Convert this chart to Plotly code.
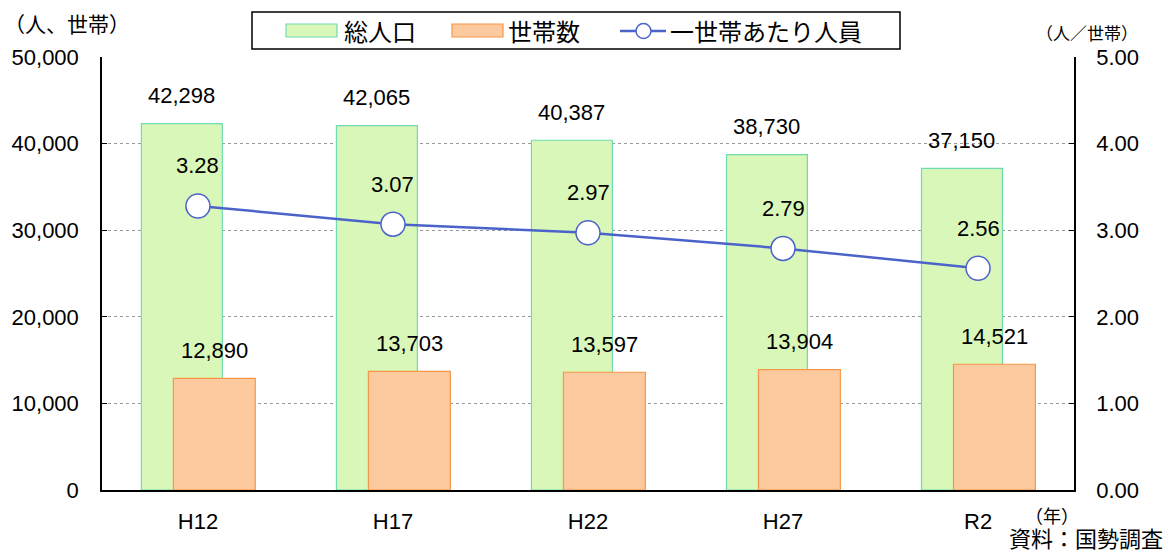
import plotly.graph_objects as go

categories = ["H12", "H17", "H22", "H27", "R2"]
population = [42298, 42065, 40387, 38730, 37150]
households = [12890, 13703, 13597, 13904, 14521]
per_household = [3.28, 3.07, 2.97, 2.79, 2.56]
series_names = ["総人口", "世帯数", "一世帯あたり人員"]

FONT = "Liberation Sans, Noto Sans CJK JP, sans-serif"
JFONT = "Noto Sans CJK JP, sans-serif"
GREEN_FILL, GREEN_LINE = "#d9f7b9", "#6fdcb0"
ORANGE_FILL, ORANGE_LINE = "#fdcaa0", "#f79646"
BLUE = "#4b63c9"

x = list(range(len(categories)))
GREEN_OFF, GREEN_W = -0.29, 0.415
ORANGE_OFF, ORANGE_W = -0.126, 0.42

W, H = 1168, 553
L, R, T, B = 102, 94, 57, 63
pw, ph = W - L - R, H - T - B
def px(xp): return (xp - L) / pw
def py(yp): return 1 - (yp - T) / ph

fig = go.Figure()
fig.add_trace(go.Bar(
    x=x, y=population, name=series_names[0], offset=GREEN_OFF, width=GREEN_W,
    marker=dict(color=GREEN_FILL, line=dict(color=GREEN_LINE, width=1.2)),
))
fig.add_trace(go.Bar(
    x=x, y=households, name=series_names[1], offset=ORANGE_OFF, width=ORANGE_W,
    marker=dict(color=ORANGE_FILL, line=dict(color=ORANGE_LINE, width=1.2)),
))
fig.add_trace(go.Scatter(
    x=x, y=per_household, name=series_names[2], yaxis="y2",
    mode="lines+markers",
    line=dict(color=BLUE, width=2.5),
    marker=dict(symbol="circle", size=24, color="white",
                line=dict(color=BLUE, width=1.5)),
))

ann = []
for i, v in enumerate(population):
    ann.append(dict(x=i + GREEN_OFF + GREEN_W / 2, y=v, xref="x", yref="y",
                    text=f"{v:,}", showarrow=False, yshift=28,
                    font=dict(size=22, color="black", family=FONT)))
for i, v in enumerate(households):
    ann.append(dict(x=i + ORANGE_OFF + ORANGE_W / 2, y=v, xref="x", yref="y",
                    text=f"{v:,}", showarrow=False, yshift=28,
                    font=dict(size=22, color="black", family=FONT)))
for i, v in enumerate(per_household):
    ann.append(dict(x=i, y=v, xref="x", yref="y2",
                    text=f"{v:.2f}", showarrow=False, yshift=40,
                    font=dict(size=22, color="black", family=FONT)))

def pann(text, xp, yp, size, xanchor="center"):
    return dict(text=text, x=px(xp), y=py(yp), xref="paper", yref="paper",
                xanchor=xanchor, yanchor="middle", showarrow=False,
                font=dict(size=size, color="black", family=JFONT))

ann += [
    pann("（人、世帯）", 2, 23, 21, "left"),
    pann("（人／世帯）", 1087, 33, 17),
    pann("（年）", 1052, 515, 18),
    pann("資料：国勢調査", 1165, 537, 22, "right"),
    # manual legend texts
    pann(series_names[0], 342, 31, 24, "left"),
    pann(series_names[1], 506, 31, 24, "left"),
    pann(series_names[2], 668, 31, 24, "left"),
]

shapes = [
    dict(type="rect", xref="paper", yref="paper", x0=px(252), x1=px(900),
         y0=py(49), y1=py(12), line=dict(color="black", width=1.5), fillcolor="white"),
    dict(type="rect", xref="paper", yref="paper", x0=px(286), x1=px(337),
         y0=py(37), y1=py(24), line=dict(color=GREEN_LINE, width=1.2), fillcolor=GREEN_FILL),
    dict(type="rect", xref="paper", yref="paper", x0=px(452), x1=px(503),
         y0=py(37), y1=py(24), line=dict(color=ORANGE_LINE, width=1.2), fillcolor=ORANGE_FILL),
    dict(type="line", xref="paper", yref="paper", x0=px(620), x1=px(666),
         y0=py(31), y1=py(31), line=dict(color=BLUE, width=2.5)),
    dict(type="circle", xref="paper", yref="paper", x0=px(636), x1=px(651),
         y0=py(38.5), y1=py(23.5), line=dict(color=BLUE, width=1.5), fillcolor="white"),
]

fig.update_layout(
    width=W, height=H,
    margin=dict(l=L, r=R, t=T, b=B),
    paper_bgcolor="white", plot_bgcolor="white",
    barmode="overlay",
    font=dict(family=FONT, size=22, color="black"),
    showlegend=False,
    xaxis=dict(range=[-0.492, 4.492], tickvals=x, ticktext=categories,
               showgrid=False, showline=True, linecolor="black", linewidth=1.5,
               ticks="", zeroline=False, tickfont=dict(size=22), ticklabelstandoff=11),
    yaxis=dict(range=[0, 50000], dtick=10000, tickformat=",d",
               showgrid=True, gridcolor="#999999", griddash="dot", gridwidth=1,
               showline=True, linecolor="black", linewidth=1.5,
               ticks="inside", ticklen=5, tickcolor="black",
               zeroline=False, tickfont=dict(size=22), ticklabelstandoff=17),
    yaxis2=dict(range=[0, 5], dtick=1, tickformat=".2f", overlaying="y", side="right",
                showgrid=False, showline=True, linecolor="black", linewidth=1.5,
                ticks="inside", ticklen=5, tickcolor="black",
                zeroline=False, tickfont=dict(size=22), ticklabelstandoff=16),
    annotations=ann,
    shapes=shapes,
)

fig.write_html("out.html", config={"displayModeBar": False},
               post_script="document.body.style.margin='0';document.body.style.overflow='hidden';")
